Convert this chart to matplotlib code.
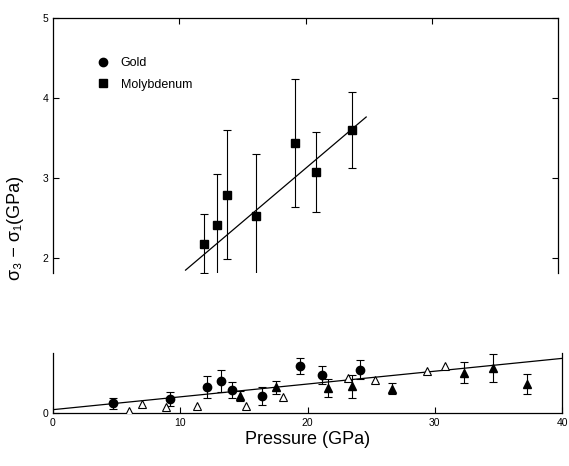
import matplotlib
matplotlib.use("Agg")
import matplotlib.pyplot as plt
from matplotlib.lines import Line2D

plt.rcParams["font.family"] = ["Liberation Sans", "DejaVu Sans"]

# データ
# Molybdenum
mo_p = [12.0, 13.0, 13.8, 16.1, 19.2, 20.8, 23.7]
mo_t = [2.18, 2.41, 2.79, 2.53, 3.44, 3.08, 3.60]
mo_err = [0.37, 0.64, 0.81, 0.77, 0.80, 0.50, 0.47]
mo_fit = [0.44, 0.134]  # 切片, 傾き
mo_fit_range = [10.5, 24.8]

# Gold
au_p = [4.7, 9.2, 12.1, 13.2, 14.1, 16.4, 19.4, 21.1, 24.1]
au_t = [0.12, 0.17, 0.32, 0.40, 0.28, 0.21, 0.58, 0.47, 0.54]
au_err = [0.07, 0.09, 0.14, 0.14, 0.10, 0.11, 0.10, 0.11, 0.12]

# 塗りつぶし三角
tri_p = [14.7, 17.5, 21.6, 23.5, 26.6, 32.3, 34.6, 37.2]
tri_t = [0.21, 0.32, 0.31, 0.33, 0.30, 0.50, 0.56, 0.36]
tri_err = [0.06, 0.08, 0.11, 0.14, 0.07, 0.13, 0.17, 0.12]

# 白抜き三角
open_p = [6.0, 7.0, 8.9, 11.3, 15.2, 18.1, 23.2, 25.3, 29.4, 30.8]
open_t = [0.02, 0.11, 0.07, 0.09, 0.09, 0.20, 0.43, 0.41, 0.52, 0.59]

au_fit = [0.04, 0.016]
au_fit_range = [0, 40]

fig = plt.figure(figsize=(5.69, 4.66), dpi=100)
ax_top = fig.add_axes([0.093, 0.414, 0.888, 0.547])
ax_bot = fig.add_axes([0.093, 0.114, 0.895, 0.129])

# 上のパネル
ax_top.errorbar(mo_p, mo_t, yerr=mo_err, fmt="s", color="black", ms=6,
                elinewidth=0.8, capsize=3, capthick=0.8, zorder=3)
x0, x1 = mo_fit_range
ax_top.plot([x0, x1], [mo_fit[0] + mo_fit[1] * x0, mo_fit[0] + mo_fit[1] * x1],
            color="black", lw=0.9)
ax_top.set_xlim(0, 40)
ax_top.set_ylim(1.81, 5.0)
ax_top.spines["bottom"].set_visible(False)
for s in ["left", "top", "right"]:
    ax_top.spines[s].set_linewidth(0.9)
ax_top.set_yticks([2, 3, 4, 5])
ax_top.set_xticks([10, 20, 30])
ax_top.tick_params(axis="y", direction="in", left=True, right=True, labelsize=7.5, length=4, width=0.8)
ax_top.tick_params(axis="x", direction="in", top=True, bottom=False, labelbottom=False, length=4, width=0.8)

handles = [Line2D([], [], ls="none", marker="o", color="black", ms=6),
           Line2D([], [], ls="none", marker="s", color="black", ms=6)]
ax_top.legend(handles, ["Gold", "Molybdenum"], loc="upper left", bbox_to_anchor=(0.065, 0.89),
              frameon=False, fontsize=9, handletextpad=0.9, labelspacing=0.75, handlelength=1.0)

# 下のパネル
ax_bot.errorbar(au_p, au_t, yerr=au_err, fmt="o", color="black", ms=6,
                elinewidth=0.8, capsize=3, capthick=0.8, zorder=3)
ax_bot.errorbar(tri_p, tri_t, yerr=tri_err, fmt="^", color="black", ms=6,
                elinewidth=0.8, capsize=3, capthick=0.8, zorder=3)
ax_bot.plot(open_p, open_t, "^", mfc="white", mec="black", ms=6, mew=0.8, zorder=3)
x0, x1 = au_fit_range
ax_bot.plot([x0, x1], [au_fit[0] + au_fit[1] * x0, au_fit[0] + au_fit[1] * x1],
            color="black", lw=0.9)
ax_bot.set_xlim(0, 40)
ax_bot.set_ylim(0, 0.75)
ax_bot.spines["top"].set_visible(False)
for s in ["left", "bottom", "right"]:
    ax_bot.spines[s].set_linewidth(0.9)
ax_bot.set_yticks([0])
ax_bot.set_xticks([0, 10, 20, 30, 40])
ax_bot.tick_params(direction="in", labelsize=7.5, length=4, width=0.8)
ax_bot.set_xlabel("Pressure (GPa)", fontsize=13, labelpad=2)

fig.text(0.027, 0.51, "σ₃ − σ₁(GPa)", rotation=90, fontsize=13,
         ha="center", va="center")

plt.savefig("out.png", dpi=100)
plt.close()
